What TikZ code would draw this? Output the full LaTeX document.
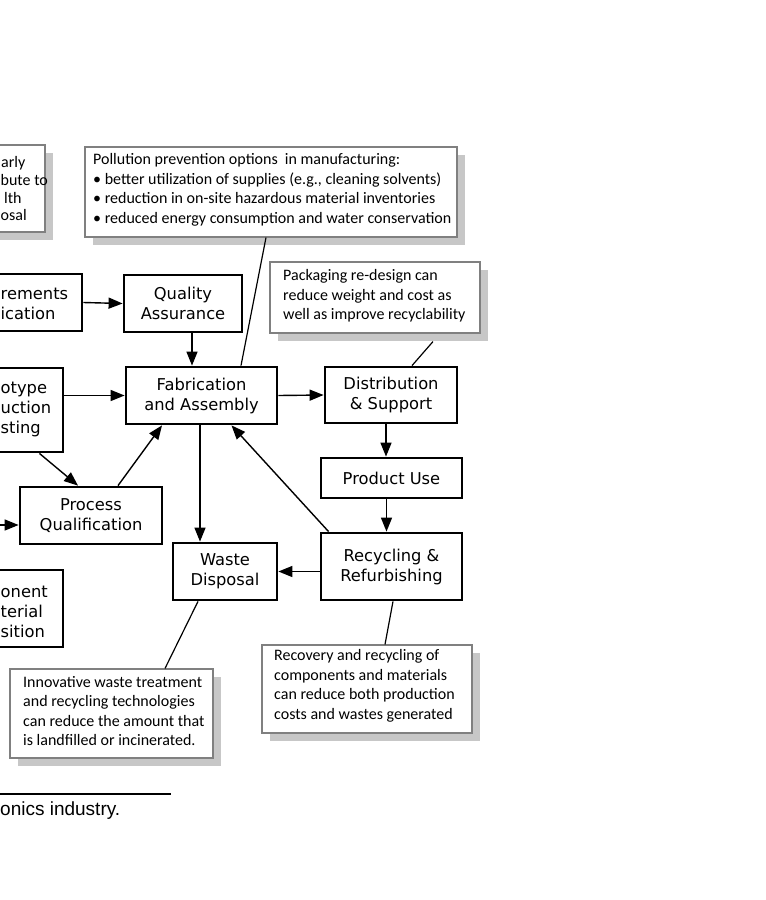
\documentclass[tikz,border=0pt]{standalone}
\usepackage{fontspec}
\setmainfont{DejaVu Sans}
\newfontfamily\notefont{Carlito}
\newfontfamily\capfont{Liberation Sans}
\usetikzlibrary{arrows.meta,shadows,calc}
\begin{document}
\begin{tikzpicture}[x=1pt,y=-1pt,
  mainbox/.style={draw, line width=2.8pt, inner sep=0pt, align=center,
    font=\fontsize{16.3}{20}\selectfont},
  frag/.style={anchor=base west, inner sep=0pt, font=\fontsize{16.3}{20}\selectfont},
  notebox/.style={draw=black!50, line width=1.1pt, fill=white, inner sep=0pt,
    drop shadow={shadow xshift=8pt, shadow yshift=-8pt, fill=black!22, opacity=1}},
  notetext/.style={anchor=west, align=left, inner sep=0pt,
    font=\notefont\fontsize{16}{19.5}\selectfont},
  notefrag/.style={anchor=base west, inner sep=0pt, font=\notefont\fontsize{16}{19.5}\selectfont},
  arr/.style={-{Triangle[length=14pt,width=11pt]}, line width=1.4pt},
  lnk/.style={line width=1.2pt}]
\clip (0,0) rectangle (766,900);
\fill[white] (0,0) rectangle (766,900);

% note boxes
\node[notebox, minimum width=195pt, minimum height=87pt] (tl) at (-52.5,188.5) {};
\node[notefrag] (tl1) at (1,167) {arly};
\node[notefrag] (tl2) at (0.5,185) {bute to};
\node[notefrag] (tl3) at (4,203) {lth};
\node[notefrag] (tl4) at (0.5,220) {osal};

\node[notebox, minimum width=372pt, minimum height=90pt] (poll) at (271,192) {};
\node[notetext] (pollt) at (93,190) {Pollution prevention options~ in manufacturing:\\
  \textbullet\ better utilization of supplies (e.g., cleaning solvents)\\
  \textbullet\ reduction in on-site hazardous material inventories\\
  \textbullet\ reduced energy consumption and water conservation};

\node[notebox, minimum width=210pt, minimum height=71pt] (pack) at (375,297.5) {};
\node[notetext] (packt) at (283,296) {Packaging re-design can\\reduce weight and cost as\\well as improve recyclability};

\node[notebox, minimum width=203pt, minimum height=89pt] (innov) at (111.5,713.5) {};
\node[notetext] (innovt) at (23,711) {Innovative waste treatment\\and recycling technologies\\can reduce the amount that\\is landfilled or incinerated.};

\node[notebox, minimum width=210pt, minimum height=88pt] (recov) at (367,689) {};
\node[notetext] (recovt) at (274,686) {Recovery and recycling of\\components and materials\\can reduce both production\\costs and wastes generated};

% main boxes
\node[mainbox, minimum width=182pt, minimum height=57pt] (req) at (-9,302.5) {};
\node[frag] (req1) at (0.5,299) {rements};
\node[frag] (req2) at (0.5,319) {ication};

\node[mainbox, minimum width=163pt, minimum height=84pt] (proto) at (-18.5,410) {};
\node[frag] (pr1) at (0.5,393) {otype};
\node[frag] (pr2) at (0.5,413) {uction};
\node[frag] (pr3) at (0.5,433) {sting};

\node[mainbox, minimum width=163pt, minimum height=77pt] (comp) at (-18.5,608.5) {};
\node[frag] (co1) at (0.5,597) {onent};
\node[frag] (co2) at (0.5,617) {terial};
\node[frag] (co3) at (0.5,637) {sition};

\node[mainbox, minimum width=118pt, minimum height=57pt] (qa) at (183,303.5) {Quality\\Assurance};
\node[mainbox, minimum width=151pt, minimum height=57pt] (fab) at (201.5,395.5) {Fabrication\\and Assembly};
\node[mainbox, minimum width=132pt, minimum height=56pt] (dist) at (391,395) {Distribution\\\&~Support};
\node[mainbox, minimum width=141pt, minimum height=40pt] (use) at (391.5,478) {Product Use};
\node[mainbox, minimum width=141pt, minimum height=67pt] (rec) at (391.5,566.5) {Recycling \&\\Refurbishing};
\node[mainbox, minimum width=104pt, minimum height=57pt] (waste) at (225,571.5) {Waste\\Disposal};
\node[mainbox, minimum width=142pt, minimum height=57pt] (pq) at (91,515.5) {Process\\Qualification};

% helper points
\coordinate (qaout) at ($(qa.south)+(9,0)$);
\coordinate (distout) at ($(dist.south)+(-5,0)$);
\coordinate (useout) at ($(use.south)+(-5,0)$);
\coordinate (fabout) at ($(fab.south)+(-1.5,0)$);
\coordinate (pqsrc) at (-30,525);

% arrows
\draw[arr] (req.east) -- (qa.west);
\draw[arr] (qaout) -- (qaout |- fab.north);
\draw[arr] (fab.west -| proto.east) -- (fab.west);
\draw[arr] (fab.east) -- (dist.west);
\draw[arr] (distout) -- (distout |- use.north);
\draw[arr] (useout) -- (useout |- rec.north);
\draw[arr] (waste.east -| rec.west) -- (waste.east);
\draw[arr] (fabout) -- (fabout |- waste.north);
\draw[arr] ($(rec.north west)+(9,0)$) -- ($(fab.south)+(30,0)$);
\draw[arr] ($(pq.north)+(27,0)$) -- ($(fab.south)+(-39.5,0)$);
\draw[arr] ($(proto.south east)+(-25,0)$) -- ($(pq.north)+(-13,0)$);
\draw[arr] (pqsrc) -- (pqsrc -| pq.west);

% note links
\draw[lnk] ($(poll.south)+(-5,0)$) -- ($(fab.north)+(39.5,0)$);
\draw[lnk] ($(pack.south)+(58,8)$) -- ($(dist.north)+(21,0)$);
\draw[lnk] ($(waste.south)+(-27,0)$) -- ($(innov.north)+(53.5,0)$);
\draw[lnk] ($(rec.south)+(1.5,0)$) -- ($(recov.north)+(18,0)$);

% caption fragment
\coordinate (ruleL) at (-5,794);
\coordinate (ruleR) at (171,794);
\draw[line width=2pt] (ruleL) -- (ruleR);
\node[anchor=base west, inner sep=0pt, font=\capfont\fontsize{19}{22}\selectfont] (cap) at (0,815) {onics industry.};
\end{tikzpicture}
\end{document}
